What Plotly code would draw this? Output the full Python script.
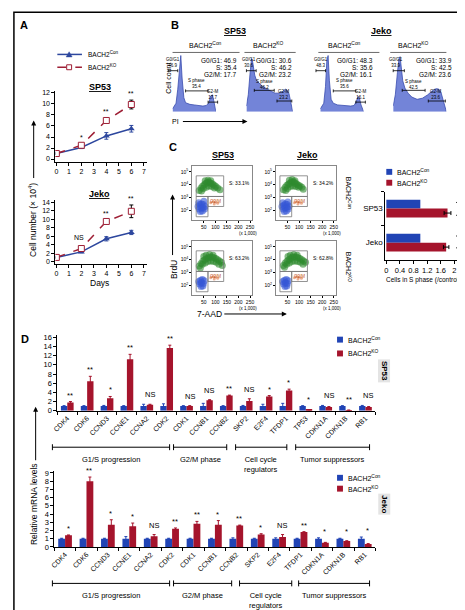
import plotly.graph_objects as go

W, H = 465, 610
FONT = "Liberation Sans, Arial, Helvetica, sans-serif"
NARROW = "Liberation Sans Narrow, Arial Narrow, Liberation Sans, Arial, sans-serif"

# ---------------- data ----------------
days = [0, 2, 4, 6]
sp53_con = [1.0, 2.1, 4.2, 5.5]
sp53_con_err = [0.1, 0.2, 0.6, 0.6]
sp53_ko = [1.0, 2.5, 7.0, 9.9]
sp53_ko_err = [0.1, 0.3, 0.4, 0.8]
sp53_sig = ["", "*", "**", "**"]
jeko_con = [1.0, 2.3, 5.4, 6.9]
jeko_con_err = [0.1, 0.2, 0.5, 0.5]
jeko_ko = [1.0, 3.1, 9.5, 11.9]
jeko_ko_err = [0.1, 0.3, 0.4, 1.5]
jeko_sig = ["", "NS", "**", "**"]

# PI histograms (channel, relative count)
h1_x = [0, 8, 12, 16, 19, 22, 26, 30, 40, 50, 60, 70, 78, 84, 88, 92, 95, 98, 100]
h1_y = [5, 15, 40, 85, 100, 60, 25, 16, 13, 12, 11, 10, 11, 16, 28, 30, 20, 6, 0]
h2_x = [0, 4, 8, 11, 13, 15, 18, 22, 28, 35, 45, 55, 62, 70, 78, 84, 88, 92, 96, 100]
h2_y = [10, 30, 70, 95, 91, 80, 65, 55, 50, 45, 40, 36, 33, 33, 36, 40, 38, 32, 15, 0]
h3_x = [0, 8, 12, 15, 18, 21, 25, 30, 40, 50, 60, 70, 78, 83, 87, 90, 94, 97, 100]
h3_y = [5, 15, 45, 90, 100, 55, 22, 15, 12, 11, 10, 10, 11, 18, 27, 25, 12, 4, 0]
h4_x = [0, 4, 8, 11, 13, 15, 18, 22, 28, 35, 45, 55, 65, 72, 78, 82, 86, 90, 95, 100]
h4_y = [10, 30, 70, 95, 98, 80, 55, 42, 33, 26, 22, 24, 30, 36, 40, 41, 40, 34, 15, 0]
hist_titles = ["BACH2<sup>Con</sup>", "BACH2<sup>KO</sup>", "BACH2<sup>Con</sup>", "BACH2<sup>KO</sup>"]
g0g1 = [46.9, 30.6, 48.3, 33.9]
s_phase = [35.4, 46.2, 35.6, 42.5]
g2m = [17.7, 23.2, 16.1, 23.6]

# BrdU / 7-AAD clouds (7-AAD x1000, log10 BrdU)
c1_gx = [30, 38, 45, 52, 58, 64, 70, 76, 82, 88, 95, 102, 110, 48, 60, 72, 84, 96, 56, 68, 80, 40, 120]
c1_gy = [3.55, 3.75, 3.9, 4.0, 4.1, 4.15, 4.2, 4.15, 4.1, 4.05, 3.95, 3.85, 3.75, 3.7, 3.8, 3.9, 3.85, 3.75, 4.3, 4.35, 4.3, 3.5, 3.6]
c1_bx = [25, 32, 40, 48, 55, 30, 38, 46, 54, 35, 44, 28, 50]
c1_by = [2.3, 2.45, 2.5, 2.45, 2.3, 2.1, 2.2, 2.2, 2.1, 1.9, 1.95, 2.6, 2.7]
c2_gx = [32, 40, 47, 54, 60, 66, 72, 78, 84, 90, 97, 104, 112, 50, 62, 74, 86, 98, 58, 70, 82, 42, 118]
c2_gy = [3.6, 3.8, 3.95, 4.05, 4.1, 4.2, 4.2, 4.2, 4.1, 4.05, 3.95, 3.9, 3.8, 3.7, 3.85, 3.9, 3.85, 3.8, 4.35, 4.4, 4.3, 3.55, 3.65]
c2_bx = [26, 33, 41, 49, 56, 31, 39, 47, 53, 36, 45, 29, 51]
c2_by = [2.3, 2.4, 2.5, 2.45, 2.3, 2.1, 2.2, 2.25, 2.1, 1.9, 1.95, 2.6, 2.65]
c3_gx = [30, 38, 46, 54, 62, 70, 78, 86, 94, 102, 110, 118, 126, 44, 56, 68, 80, 92, 104, 60, 75, 90, 50, 115, 35, 130]
c3_gy = [3.5, 3.7, 3.9, 4.0, 4.1, 4.15, 4.2, 4.2, 4.15, 4.1, 4.0, 3.9, 3.8, 3.65, 3.75, 3.85, 3.9, 3.85, 3.8, 4.35, 4.4, 4.35, 4.25, 3.65, 3.35, 3.55]
c3_bx = [28, 36, 44, 52, 32, 40, 48, 38, 46]
c3_by = [2.3, 2.4, 2.45, 2.35, 2.1, 2.2, 2.15, 1.9, 1.95]
c4_gx = [32, 40, 48, 56, 64, 72, 80, 88, 96, 104, 112, 120, 128, 46, 58, 70, 82, 94, 106, 62, 77, 92, 52, 117, 37]
c4_gy = [3.55, 3.75, 3.9, 4.0, 4.1, 4.2, 4.2, 4.2, 4.15, 4.1, 4.0, 3.9, 3.8, 3.65, 3.75, 3.85, 3.9, 3.85, 3.8, 4.35, 4.4, 4.35, 4.25, 3.65, 3.4]
c4_bx = [29, 37, 45, 53, 33, 41, 49, 39, 47]
c4_by = [2.3, 2.4, 2.45, 2.35, 2.1, 2.2, 2.15, 1.9, 1.95]
orange_x = [80, 90, 100, 110, 95]
orange_y = [2.6, 2.7, 2.65, 2.55, 2.5]
s_pct = ["S: 33.1%", "S: 34.2%", "S: 63.2%", "S: 62.8%"]

# S-phase fraction (relative to control)
cells = ["SP53", "Jeko"]
s_con = [1.0, 1.0]
s_ko = [1.8, 1.76]
s_ko_err = [0.1, 0.08]

# qPCR
genes_sp53 = ["CDK4", "CDK6", "CCND3", "CCNE1", "CCNA2", "CDK2", "CDK1", "CCNB1", "CCNB2", "SKP2", "E2F4", "TFDP1", "TP53", "CDKN1A", "CDKN1B", "RB1"]
con_sp53 = [1.0, 1.0, 1.0, 1.0, 1.0, 1.0, 1.0, 1.0, 1.0, 1.0, 1.0, 1.0, 1.0, 1.0, 1.0, 1.0]
con_sp53_err = [0.1, 0.1, 0.15, 0.1, 0.4, 0.5, 0.1, 0.6, 0.1, 0.15, 0.4, 0.6, 0.1, 0.15, 0.1, 0.15]
ko_sp53 = [1.8, 6.4, 2.7, 11.2, 1.3, 13.7, 1.0, 2.3, 3.3, 2.1, 3.1, 4.4, 0.2, 0.8, 0.1, 0.8]
ko_sp53_err = [0.2, 1.1, 0.4, 1.1, 0.1, 0.6, 0.1, 0.1, 0.1, 0.5, 0.2, 0.3, 0.05, 0.1, 0.05, 0.1]
sig_sp53 = ["**", "**", "*", "**", "NS", "**", "NS", "NS", "**", "NS", "*", "*", "*", "NS", "**", "NS"]

genes_jeko = ["CDK4", "CDK6", "CCND3", "CCNE1", "CCNA2", "CDK2", "CDK1", "CCNB1", "CCNB2", "SKP2", "E2F4", "TFDP1", "CDKN1A", "CDKN1B", "RB1"]
con_jeko = [1.0, 1.0, 1.0, 1.0, 1.0, 1.0, 1.0, 1.0, 1.0, 1.0, 1.0, 1.0, 1.0, 1.0, 1.0]
con_jeko_err = [0.05, 0.05, 0.05, 0.25, 0.05, 0.05, 0.05, 0.05, 0.1, 0.05, 0.1, 0.05, 0.1, 0.05, 0.2]
ko_jeko = [1.4, 8.0, 2.7, 2.5, 1.3, 2.2, 2.8, 2.7, 2.6, 1.5, 1.2, 1.8, 0.5, 0.7, 0.35]
ko_jeko_err = [0.05, 0.5, 0.6, 0.4, 0.2, 0.1, 0.3, 0.5, 0.05, 0.1, 0.3, 0.05, 0.05, 0.05, 0.05]
sig_jeko = ["*", "**", "*", "*", "NS", "**", "**", "*", "**", "*", "NS", "**", "*", "*", "*"]

# ---------------- style ----------------
BLUE_L = "#2d479e"
RED_L = "#9e1f35"
BLUE_B = "#2144b5"
RED_B = "#a5142c"
HIST_FILL = "#7384d8"
HIST_LINE = "#3a4cae"
TINY = 5


def px(x):
    return x / W


def py(y):
    return 1 - y / H


annotations = []
shapes = []


def txt(text, x, y, size=7, bold=False, xanchor="center", yanchor="middle", angle=0, color="black",
        family=FONT, **kw):
    if bold:
        text = f"<b>{text}</b>"
    d = dict(text=text, x=px(x), y=py(y), xref="paper", yref="paper", showarrow=False,
             xanchor=xanchor, yanchor=yanchor, textangle=angle,
             font=dict(family=family, size=size, color=color))
    d.update(kw)
    annotations.append(d)


def line(x0, y0, x1, y1, color="black", width=1, dash="solid"):
    shapes.append(dict(type="line", xref="paper", yref="paper", x0=px(x0), y0=py(y0),
                       x1=px(x1), y1=py(y1), line=dict(color=color, width=width, dash=dash)))


def rect(x0, y0, x1, y1, fill, color=None, width=0):
    shapes.append(dict(type="rect", xref="paper", yref="paper", x0=px(x0), y0=py(y0),
                       x1=px(x1), y1=py(y1), fillcolor=fill,
                       line=dict(color=color or fill, width=width)))


def arrow(hx, hy, tx, ty):
    annotations.append(dict(x=px(hx), y=py(hy), xref="paper", yref="paper", ax=tx - hx, ay=ty - hy,
                            text="", showarrow=True, arrowhead=2, arrowsize=1, arrowwidth=1,
                            arrowcolor="black"))


def bracket(x0, x1, y, cap=3, width=1):
    line(x0, y, x1, y, width=width)
    line(x0, y - cap, x0, y + cap, width=width)
    line(x1, y - cap, x1, y + cap, width=width)


def axstyle(**kw):
    d = dict(showgrid=False, zeroline=False, showline=True, linecolor="black", linewidth=1,
             ticks="outside", ticklen=3, tickwidth=1, tickcolor="black",
             tickfont=dict(family=FONT, size=7), fixedrange=True)
    d.update(kw)
    return d


fig = go.Figure()
layout = {}

# ================= Panel A =================
for i, (con, cerr, ko, kerr, sig) in enumerate([
        (sp53_con, sp53_con_err, sp53_ko, sp53_ko_err, sp53_sig),
        (jeko_con, jeko_con_err, jeko_ko, jeko_ko_err, jeko_sig)]):
    xa = "x" if i == 0 else "x2"
    ya = "y" if i == 0 else "y2"
    fig.add_trace(go.Scatter(x=days, y=con, mode="lines+markers", xaxis=xa, yaxis=ya,
                             line=dict(color=BLUE_L, width=1.5),
                             marker=dict(symbol="triangle-up", size=6, color=BLUE_L),
                             error_y=dict(array=cerr, color=BLUE_L, thickness=1, width=2),
                             showlegend=False))
    fig.add_trace(go.Scatter(x=days, y=ko, mode="lines+markers", xaxis=xa, yaxis=ya,
                             line=dict(color=RED_L, width=1.5, dash="dash"),
                             marker=dict(symbol="square", size=6, color="white",
                                         line=dict(color=RED_L, width=1)),
                             error_y=dict(array=kerr, color="black", thickness=1, width=2),
                             showlegend=False))
    for d, v, e, s in zip(days, ko, kerr, sig):
        if s:
            annotations.append(dict(text=s, x=d, y=v + e, xref=xa, yref=ya, showarrow=False,
                                    yanchor="bottom", yshift=1 if s != "NS" else 4,
                                    xshift=0 if s != "NS" else -2,
                                    font=dict(family=FONT, size=7)))

layout["xaxis"] = axstyle(domain=[px(43), px(136)], range=[-0.08, 7.25], tickvals=list(range(8)), anchor="y")
layout["yaxis"] = axstyle(domain=[py(152.8), py(80.8)], range=[-0.5, 12.4], tickvals=list(range(0, 13, 2)), anchor="x")
layout["xaxis2"] = axstyle(domain=[px(43), px(136)], range=[-0.08, 7.25], tickvals=list(range(8)), anchor="y2")
layout["yaxis2"] = axstyle(domain=[py(255.9), py(191.4)], range=[-0.45, 14.6], tickvals=list(range(0, 15, 2)), anchor="x2")

txt("A", 5, 14, size=11, bold=True, xanchor="left")
line(45, 44, 70, 44, color=BLUE_L, width=1.5)
shapes.append(dict(type="path", xref="paper", yref="paper",
                   path=f"M {px(54)},{py(46.5)} L {px(60)},{py(46.5)} L {px(57)},{py(41.3)} Z",
                   fillcolor=BLUE_L, line=dict(color=BLUE_L, width=0.5)))
txt("BACH2<sup>Con</sup>", 74, 44, size=6.5, xanchor="left")
line(45, 57, 70, 57, color=RED_L, width=1.5, dash="dash")
rect(54.5, 54.5, 59.5, 59.5, "white", color=RED_L, width=1)
txt("BACH2<sup>KO</sup>", 74, 57, size=6.5, xanchor="left")
txt("<b><u>SP53</u></b>", 88, 77, size=9)
txt("<b><u>Jeko</u></b>", 88, 185, size=9)
txt("Days", 88, 276, size=8.5, family=NARROW)
txt("Cell number (× 10<sup>4</sup>)", 20, 212, size=8.5, angle=-90, family=NARROW)
arrow(21, 111, 21, 170)

# ================= Panel B =================
hist_x_dom = [(162, 206), (237, 284), (312, 356), (386, 440)]
hists = [(h1_x, h1_y), (h2_x, h2_y), (h3_x, h3_y), (h4_x, h4_y)]
head_lines = [(162, 230), (235, 287), (310, 372), (383, 440)]
head_cx = [195, 259, 337, 407]
stat_right = [229, 285, 368, 448]
gates_con = [(-10, 12, 73, 2, 87), (30, 82, 37, 56, 50), (82, 104, 17, 93, 31)]
gates_ko = [(0, 21, 73, 6, 87), (17, 60, 38, 38, 49), (66, 98, 19, 81, 31)]
for i, ((hx, hy), (x0, x1)) in enumerate(zip(hists, hist_x_dom)):
    n = i + 3
    fig.add_trace(go.Scatter(x=hx, y=hy, mode="lines", fill="tozeroy", fillcolor=HIST_FILL,
                             line=dict(color=HIST_LINE, width=0.8), xaxis=f"x{n}", yaxis=f"y{n}",
                             showlegend=False, hoverinfo="skip"))
    layout[f"xaxis{n}"] = dict(domain=[px(x0), px(x1)], range=[0, 100], visible=False, anchor=f"y{n}", fixedrange=True)
    layout[f"yaxis{n}"] = dict(domain=[py(102), py(44)], range=[0, 102], visible=False, anchor=f"x{n}", fixedrange=True)
    txt(hist_titles[i], head_cx[i], 34, size=7)
    line(head_lines[i][0], 42, head_lines[i][1], 42, color="#444", width=0.8)
    txt(f"G0/G1: {g0g1[i]}", stat_right[i], 50, size=6.5, xanchor="right")
    txt(f"S: {s_phase[i]}", stat_right[i], 57, size=6.5, xanchor="right")
    txt(f"G2/M: {g2m[i]}", stat_right[i], 64, size=6.5, xanchor="right")
    gates = gates_con if i % 2 == 0 else gates_ko
    labels = [f"G0/G1<br>{g0g1[i]}", f"S phase<br>{s_phase[i]}", f"G2-M<br>{g2m[i]}"]
    for (gx0, gx1, gy, lx, ly), lab in zip(gates, labels):
        X0 = x0 + (x1 - x0) * gx0 / 100
        X1 = x0 + (x1 - x0) * gx1 / 100
        Y = 102 - gy * 58 / 102
        bracket(X0, X1, Y, cap=1.5, width=0.8)
        txt(lab, x0 + (x1 - x0) * lx / 100, 102 - ly * 58 / 102, size=TINY - 0.5)

txt("B", 158, 14, size=11, bold=True, xanchor="left")
txt("<b><u>SP53</u></b>", 225, 20, size=9)
txt("<b><u>Jeko</u></b>", 374, 20, size=9)
txt("Cell count", 157, 68, size=7, angle=-90, family=NARROW)
txt("PI", 165, 112, size=7)
arrow(238, 112, 172, 112)

# ================= Panel C (flow) =================
clouds = [(c1_gx, c1_gy, c1_bx, c1_by), (c2_gx, c2_gy, c2_bx, c2_by),
          (c3_gx, c3_gy, c3_bx, c3_by), (c4_gx, c4_gy, c4_bx, c4_by)]
boxes = [((182, 243), (157, 212)), ((267, 328), (157, 212)),
         ((182, 243), (233, 288)), ((267, 328), (233, 288))]
for i, ((gx, gy, bx, by), ((bx0, bx1), (by0, by1))) in enumerate(zip(clouds, boxes)):
    n = i + 7
    xa, ya = f"x{n}", f"y{n}"
    fig.add_trace(go.Scatter(x=gx, y=gy, mode="markers", xaxis=xa, yaxis=ya, showlegend=False,
                             marker=dict(size=7, color="#2f8a2f", opacity=0.6, line=dict(width=0))))
    fig.add_trace(go.Scatter(x=bx, y=by, mode="markers", xaxis=xa, yaxis=ya, showlegend=False,
                             marker=dict(size=7, color="#3557d6", opacity=0.6, line=dict(width=0))))
    fig.add_trace(go.Scatter(x=orange_x, y=orange_y, mode="markers", xaxis=xa, yaxis=ya, showlegend=False,
                             marker=dict(size=3, color="#e07a4a", opacity=0.6, line=dict(width=0))))
    layout[f"xaxis{n}"] = axstyle(domain=[px(bx0), px(bx1)], range=[0, 260], tickvals=[50, 100, 150, 200, 250],
                                  tickfont=dict(family=FONT, size=TINY), ticklen=2, linecolor="#888",
                                  mirror=True, anchor=ya)
    layout[f"yaxis{n}"] = axstyle(domain=[py(by1), py(by0)], range=[1.23, 5.46], tickvals=[2, 3, 4, 5],
                                  ticktext=["10<sup>2</sup>", "10<sup>3</sup>", "10<sup>4</sup>", "10<sup>5</sup>"],
                                  tickfont=dict(family=FONT, size=TINY), ticklen=2, linecolor="#888",
                                  mirror=True, anchor=xa)
    for (gx0, gx1, gy0, gy1) in [(17, 136, 3.08, 4.69), (17, 68, 1.5, 3.08), (68, 136, 2.3, 3.08)]:
        shapes.append(dict(type="rect", xref=xa, yref=ya, x0=gx0, x1=gx1, y0=gy0, y1=gy1,
                           line=dict(color="#777", width=0.8), fillcolor="rgba(0,0,0,0)"))
    annotations.append(dict(text=s_pct[i], x=150, y=4.1, xref=xa, yref=ya, showarrow=False,
                            xanchor="left", font=dict(family=FONT, size=TINY)))
    annotations.append(dict(text="G2/M", x=100, y=2.7, xref=xa, yref=ya, showarrow=False,
                            font=dict(family=FONT, size=TINY - 0.5, color="#c05020")))
    txt("(x 1,000)", bx1 - 4, by1 + 13, size=TINY - 0.5)

txt("C", 156, 138, size=11, bold=True, xanchor="left")
txt("<b><u>SP53</u></b>", 213, 146, size=9)
txt("<b><u>Jeko</u></b>", 299, 146, size=9)
txt("BACH2<sup>Con</sup>", 341, 185, size=7, angle=90)
txt("BACH2<sup>KO</sup>", 341, 260, size=7, angle=90)
txt("BrdU", 163, 262, size=8.5, angle=-90, family=NARROW)
arrow(162, 186, 162, 248)
txt("7-AAD", 199, 307, size=8.5, family=NARROW)
arrow(278, 307, 214, 307)

# ================= Panel C (bars) =================
fig.add_trace(go.Bar(y=cells, x=s_con, orientation="h", xaxis="x11", yaxis="y11", showlegend=False,
                     marker=dict(color=BLUE_B, line=dict(width=0)), width=0.26, offset=-0.26))
fig.add_trace(go.Bar(y=cells, x=s_ko, orientation="h", xaxis="x11", yaxis="y11", showlegend=False,
                     marker=dict(color=RED_B, line=dict(width=0)), width=0.26, offset=0.0,
                     error_x=dict(array=s_ko_err, color="black", thickness=1, width=2)))
layout["xaxis11"] = axstyle(domain=[px(378), px(451)], range=[-0.03, 2.085],
                            tickvals=[0, 0.4, 0.8, 1.2, 1.6, 2],
                            ticktext=["0", "0.4", "0.8", "1.2", "1.6", "2"],
                            tickfont=dict(family=NARROW, size=7.5), anchor="y11")
layout["yaxis11"] = axstyle(domain=[py(252), py(183)], autorange="reversed", type="category",
                            tickson="boundaries", tickfont=dict(family=FONT, size=8), anchor="x11")
rect(379, 160, 385, 166, BLUE_B)
txt("BACH2<sup>Con</sup>", 388, 163, size=7, xanchor="left")
rect(379, 171, 385, 177, RED_B)
txt("BACH2<sup>KO</sup>", 388, 174, size=7, xanchor="left")
for (y0, y1) in [(194, 207), (228, 240)]:
    line(452, y0, 452, y1)
    line(450, y0, 454, y0)
    line(450, y1, 454, y1)
    txt("**", 456.5, (y0 + y1) / 2, size=5.5, angle=90)
txt("Cells in S phase (/control)", 416, 273, size=6.5)

# ================= Panel D =================
for k, (genes, con, cerr, ko, kerr, sig, n) in enumerate([
        (genes_sp53, con_sp53, con_sp53_err, ko_sp53, ko_sp53_err, sig_sp53, 12),
        (genes_jeko, con_jeko, con_jeko_err, ko_jeko, ko_jeko_err, sig_jeko, 13)]):
    xa, ya = f"x{n}", f"y{n}"
    fig.add_trace(go.Bar(x=genes, y=con, xaxis=xa, yaxis=ya, showlegend=False,
                         marker=dict(color=BLUE_B, line=dict(width=0)),
                         error_y=dict(array=cerr, color=BLUE_B, thickness=1, width=1.5)))
    fig.add_trace(go.Bar(x=genes, y=ko, xaxis=xa, yaxis=ya, showlegend=False,
                         marker=dict(color=RED_B, line=dict(width=0)),
                         error_y=dict(array=kerr, color=RED_B, thickness=1, width=1.5)))
    for g, c, ce, v, e, s in zip(genes, con, cerr, ko, kerr, sig):
        annotations.append(dict(text=s, x=g, y=max(v + e, c + ce), xref=xa, yref=ya, showarrow=False,
                                yanchor="bottom", xshift=3, yshift=0 if s != "NS" else 3,
                                font=dict(family=FONT, size=7.5)))

layout["xaxis12"] = axstyle(domain=[px(45), px(368)], type="category", tickangle=-45, tickson="boundaries",
                            tickfont=dict(family=FONT, size=7), anchor="y12")
layout["yaxis12"] = axstyle(domain=[py(405), py(328.4)], range=[0, 16.5], tickvals=list(range(0, 17, 2)),
                            tickfont=dict(family=FONT, size=7.5), anchor="x12")
layout["xaxis13"] = axstyle(domain=[px(42), px(368)], type="category", tickangle=-45, tickson="boundaries",
                            tickfont=dict(family=FONT, size=7), anchor="y13")
layout["yaxis13"] = axstyle(domain=[py(543), py(466.4)], range=[0, 9.2], tickvals=list(range(0, 10)),
                            tickfont=dict(family=FONT, size=7.5), anchor="x13")

txt("D", 6, 332, size=11, bold=True, xanchor="left")
for (yb, yr) in [(333, 347), (473, 484)]:
    rect(329, yb - 3, 335, yb + 3, BLUE_B)
    txt("BACH2<sup>Con</sup>", 338, yb, size=7, xanchor="left")
    rect(329, yr - 3, 335, yr + 3, RED_B)
    txt("BACH2<sup>KO</sup>", 338, yr, size=7, xanchor="left")
txt("SP53", 377, 365, size=8, bold=True, angle=90, bgcolor="#e4e4e4")
txt("Jeko", 377, 500, size=8, bold=True, angle=90, bgcolor="#e4e4e4")

for (x0, x1, lab) in [(40, 159, "G1/S progression"), (163, 217, "G2/M phase"),
                      (226, 278, "Cell cycle<br>regulators"), (287, 362, "Tumor suppressors")]:
    bracket(x0, x1, 442)
    txt(lab, (x0 + x1) / 2, 448, size=7.5, yanchor="top")
for (x0, x1, lab) in [(40, 159, "G1/S progression"), (163, 222, "G2/M phase"),
                      (230, 283, "Cell cycle<br>regulators"), (290, 362, "Tumor suppressors")]:
    bracket(x0, x1, 580)
    txt(lab, (x0 + x1) / 2, 586, size=7.5, yanchor="top")

txt("Relative mRNA levels", 22, 500, size=8.5, angle=-90, family=NARROW)
arrow(23, 401, 23, 456)

# outer frame
shapes.append(dict(type="rect", xref="paper", yref="paper", x0=0.002, y0=0.002, x1=0.998, y1=0.998,
                   line=dict(color="black", width=1.5), fillcolor="rgba(0,0,0,0)"))

fig.update_layout(**layout)
fig.update_layout(width=W, height=H, autosize=False, margin=dict(l=0, r=0, t=0, b=0),
                  paper_bgcolor="white", plot_bgcolor="rgba(0,0,0,0)",
                  barmode="group", bargap=0.36, bargroupgap=0,
                  font=dict(family=FONT, size=7, color="black"),
                  annotations=annotations, shapes=shapes, showlegend=False)
fig.write_html("out.html")
